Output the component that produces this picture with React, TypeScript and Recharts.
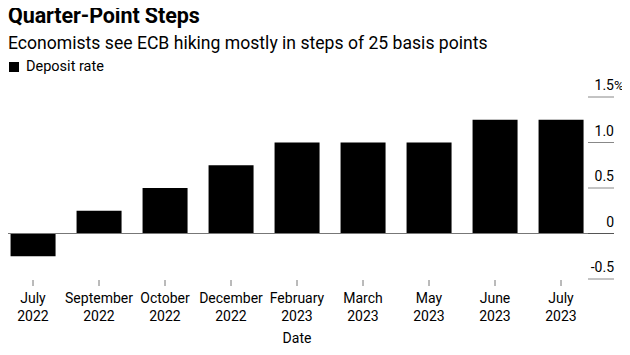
import { Bar, BarChart, ReferenceLine, XAxis, YAxis } from "recharts";

const dates = [
  "July 2022",
  "September 2022",
  "October 2022",
  "December 2022",
  "February 2023",
  "March 2023",
  "May 2023",
  "June 2023",
  "July 2023",
];
const depositRate = [-0.25, 0.25, 0.5, 0.75, 1.0, 1.0, 1.0, 1.25, 1.25];
const yTicks = [-0.5, 0, 0.5, 1, 1.5];
const yTickLabels = ["-0.5", "0", "0.5", "1.0", "1.5"];

const data = dates.map((d, i) => ({ date: d, rate: depositRate[i] }));

const FONT = "Roboto, 'Liberation Sans', sans-serif";

const DateTick = (props: any) => {
  const { x, y, payload } = props;
  const [month, year] = String(payload.value).split(" ");
  return (
    <g>
      <line x1={x} x2={x} y1={y - 7} y2={y - 1} stroke="#777" />
      <text x={x} y={y + 16} textAnchor="middle" fontSize={14} fill="#000" fontFamily={FONT}>
        {month}
      </text>
      <text x={x} y={y + 34} textAnchor="middle" fontSize={14} fill="#000" fontFamily={FONT}>
        {year}
      </text>
    </g>
  );
};

const RateTick = (props: any) => {
  const { y, payload } = props;
  const i = yTicks.indexOf(payload.value);
  const top = i === yTicks.length - 1;
  return (
    <g>
      <line x1={588} x2={614} y1={y} y2={y} stroke={payload.value === 0 ? "#555" : "#888"} />
      <text x={614} y={y - 7} textAnchor="end" fontSize={14} fill="#000" fontFamily={FONT}>
        {yTickLabels[i]}
      </text>
      {top && (
        <text x={614} y={y - 7} textAnchor="start" fontSize={13.5} fill="#000" fontFamily={FONT}>
          %
        </text>
      )}
    </g>
  );
};

export default function App() {
  return (
    <div style={{ position: "relative", width: 630, height: 355, margin: -8, background: "#fff", fontFamily: FONT }}>
      <div style={{ position: "absolute", left: 8, top: 3, fontSize: 21.5, fontWeight: 700, letterSpacing: -0.1 }}>
        Quarter-Point Steps
      </div>
      <div style={{ position: "absolute", left: 8, top: 33, fontSize: 17.6 }}>
        Economists see ECB hiking mostly in steps of 25 basis points
      </div>
      <div style={{ position: "absolute", left: 9, top: 58, fontSize: 14.5, display: "flex", alignItems: "center" }}>
        <span style={{ display: "inline-block", width: 10, height: 10, background: "#000", marginRight: 7 }} />
        Deposit rate
      </div>
      <div style={{ position: "absolute", left: 0, top: 0 }}>
        <BarChart
          width={630}
          height={355}
          data={data}
          margin={{ top: 97, right: 0, bottom: 0, left: 0 }}
          barCategoryGap="16%"
        >
          <XAxis
            dataKey="date"
            axisLine={false}
            tickLine={false}
            interval={0}
            height={76}
            tick={<DateTick />}
            label={{ value: "Date", position: "insideBottom", offset: 12, fontSize: 14, fill: "#000", fontFamily: FONT }}
          />
          <YAxis
            orientation="right"
            width={36}
            domain={[-0.5, 1.5]}
            ticks={yTicks}
            axisLine={false}
            tickLine={false}
            tick={<RateTick />}
          />
          <ReferenceLine y={0} stroke="#777" />
          <Bar dataKey="rate" fill="#000" isAnimationActive={false} />
        </BarChart>
      </div>
    </div>
  );
}
